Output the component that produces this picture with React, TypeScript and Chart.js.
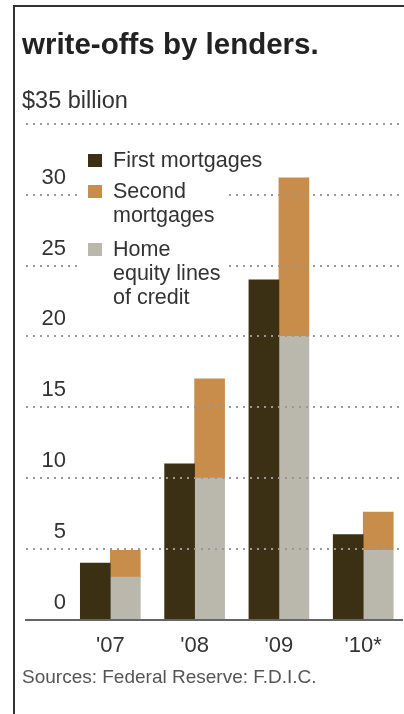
import React, { useEffect, useRef } from 'react';
import { Chart, registerables } from 'chart.js';

Chart.register(...registerables);

// ---- data ----
const years = ["'07", "'08", "'09", "'10*"];
const firstMortgages = [4.0, 11.0, 24.0, 6.0];
const homeEquityLines = [3.0, 10.0, 20.0, 4.9];
const secondMortgages = [1.9, 7.0, 11.2, 2.7];
const yTickValues = [0, 5, 10, 15, 20, 25, 30, 35];
const yTickLabels = ['0', '5', '10', '15', '20', '25', '30', ''];
const unitLabel = '$35 billion';
const titleText = 'write-offs by lenders.';
const sourceText = 'Sources: Federal Reserve: F.D.I.C.';
const legendLines = [['First mortgages'], ['Second', 'mortgages'], ['Home', 'equity lines', 'of credit']];

// ---- styles ----
const DARK = '#3b3013';
const ORANGE = '#c98d4b';
const GRAY = '#bab8ad';
const FONT = '"Liberation Sans", Arial, Helvetica, sans-serif';
const legendColors = [DARK, ORANGE, GRAY];
const legendTops = [147.5, 178.5, 236.5];

export default function App() {
  const ref = useRef<HTMLCanvasElement>(null);

  useEffect(() => {
    const chart = new Chart(ref.current as HTMLCanvasElement, {
      type: 'bar',
      data: {
        datasets: [
          {
            label: 'First mortgages',
            data: firstMortgages.map((y, i) => ({ x: i, y })),
            backgroundColor: DARK,
            stack: 'a',
            barThickness: 30,
          },
          {
            label: 'Home equity lines of credit',
            data: homeEquityLines.map((y, i) => ({ x: i, y })),
            backgroundColor: GRAY,
            stack: 'b',
            barThickness: 30,
          },
          {
            label: 'Second mortgages',
            data: secondMortgages.map((y, i) => ({ x: i, y })),
            backgroundColor: ORANGE,
            stack: 'b',
            barThickness: 30,
          },
        ],
      } as any,
      options: {
        animation: false,
        responsive: true,
        maintainAspectRatio: false,
        layout: { padding: { left: 26, right: 2, top: 124, bottom: 42 } },
        plugins: { legend: { display: false }, tooltip: { enabled: false } },
        scales: {
          x: {
            type: 'linear',
            min: -1,
            max: 3.46,
            offset: false,
            stacked: true,
            afterBuildTicks: (axis: any) => {
              axis.ticks = years.map((_, i) => ({ value: i }));
            },
            grid: { display: false, drawTicks: false },
            border: { display: true, color: '#666', width: 2 },
            ticks: {
              autoSkip: false,
              maxRotation: 0,
              padding: 13,
              color: '#333',
              font: { family: FONT, size: 22 },
              callback: (v: any) => years[v as number] ?? '',
            },
          },
          y: {
            type: 'linear',
            min: 0,
            max: 35,
            stacked: true,
            afterBuildTicks: (axis: any) => {
              axis.ticks = yTickValues.map((v) => ({ value: v }));
            },
            afterFit: (axis: any) => {
              axis.width = 0;
            },
            grid: {
              z: 1,
              drawTicks: false,
              lineWidth: 2,
              color: (ctx: any) => (ctx.tick && ctx.tick.value === 0 ? 'rgba(0,0,0,0)' : '#999'),
            },
            border: { display: false, dash: [2, 5] },
            ticks: {
              mirror: true,
              crossAlign: 'far',
              padding: 15.5,
              labelOffset: -17,
              color: '#333',
              font: { family: FONT, size: 22 },
              callback: (v: any) => {
                const i = yTickValues.indexOf(v as number);
                return i >= 0 ? yTickLabels[i] : '';
              },
            },
          },
        },
      } as any,
    });
    return () => chart.destroy();
  }, []);

  return (
    <div style={{ position: 'absolute', left: 0, top: 0, width: 404, height: 714, background: '#fff', overflow: 'hidden', fontFamily: FONT }}>
      <div style={{ position: 'absolute', left: 0, top: 0, width: 404, height: 714 }}>
        <canvas ref={ref} />
      </div>
      <div style={{ position: 'absolute', left: 13, top: 5, width: 391, height: 709, borderLeft: '2px solid #333', borderTop: '2px solid #333', pointerEvents: 'none' }} />
      <div style={{ position: 'absolute', left: 22, top: 28.5, fontSize: 29.5, lineHeight: '29px', fontWeight: 'bold', color: '#222', whiteSpace: 'nowrap' }}>{titleText}</div>
      <div style={{ position: 'absolute', left: 22, top: 89, fontSize: 23.5, lineHeight: '22px', color: '#333', whiteSpace: 'nowrap' }}>{unitLabel}</div>
      <div style={{ position: 'absolute', left: 78, top: 148, width: 149, height: 165, background: '#fff' }} />
      {legendLines.map((lines, k) => (
        <React.Fragment key={k}>
          <div style={{ position: 'absolute', left: 88, top: legendTops[k] + 6.5, width: 14, height: 13, background: legendColors[k] }} />
          <div style={{ position: 'absolute', left: 113, top: legendTops[k], fontSize: 21.5, lineHeight: '24px', color: '#333', whiteSpace: 'nowrap' }}>
            {lines.map((l, j) => (
              <div key={j}>{l}</div>
            ))}
          </div>
        </React.Fragment>
      ))}
      <div style={{ position: 'absolute', left: 22, top: 667, fontSize: 19, lineHeight: '19px', color: '#555', whiteSpace: 'nowrap' }}>{sourceText}</div>
    </div>
  );
}
